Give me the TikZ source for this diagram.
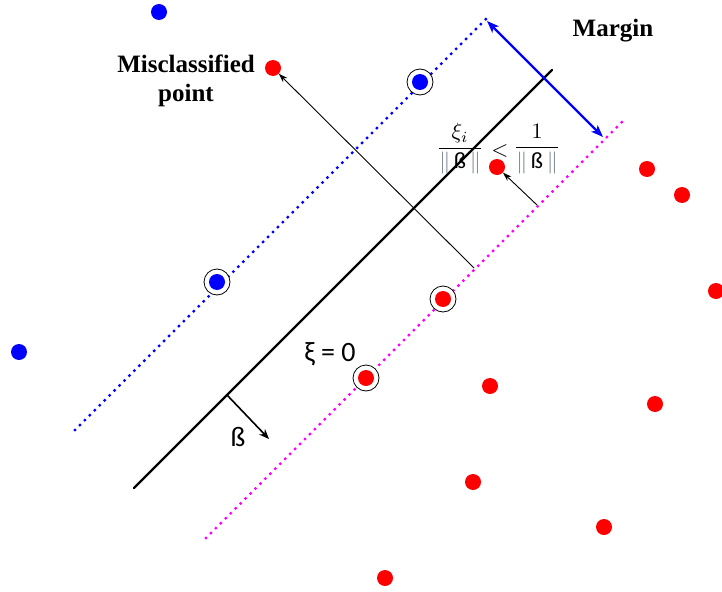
\documentclass[tikz,border=0pt]{standalone}
\usepackage{graphicx}
\usepackage{fontspec}
\usetikzlibrary{arrows.meta}
\newfontfamily\timesb{Liberation Serif}[BoldFont={* Bold}]
\newfontfamily\calib{Carlito}
\definecolor{ptblue}{RGB}{0,0,255}
\definecolor{ptred}{RGB}{255,0,0}
\definecolor{ptmag}{RGB}{255,0,255}
\definecolor{bargray}{RGB}{110,120,130}
\newcommand{\nb}{\mbox{\calib\fontsize{10.5}{12}\selectfont ß}}
\newcommand{\gbar}{\textcolor{bargray}{\|}}
\tikzset{
  bdot/.style={circle,fill=ptblue,inner sep=0pt,minimum size=16pt},
  rdot/.style={circle,fill=ptred,inner sep=0pt,minimum size=16pt},
  ring/.style={circle,draw=black,line width=0.8pt,fill=white,inner sep=0pt,minimum size=26pt},
  dotline/.style={line width=3.4pt,line cap=round,dash pattern=on 0pt off 7pt},
  thinarrow/.style={-{Stealth[length=9pt,width=6pt]},line width=0.9pt},
  boldlbl/.style={font=\timesb\bfseries\fontsize{25}{29}\selectfont,align=center,inner sep=0pt},
  sanslbl/.style={font=\calib\fontsize{28}{30}\selectfont,inner sep=0pt}
}
\begin{document}
\begin{tikzpicture}[x=1pt,y=-1pt]
\useasboundingbox (0,0) rectangle (722,591);
% lines
\coordinate (bl1) at (75,430); \coordinate (bl2) at (490,15);
\coordinate (ml1) at (206,538); \coordinate (ml2) at (622,122);
\coordinate (hl1) at (134,488); \coordinate (hl2) at (552,70);
\draw[dotline,draw=ptblue] (bl1) -- (bl2);
\draw[dotline,draw=ptmag] (ml1) -- (ml2);
\draw[line width=2.4pt,line cap=round] (hl1) -- (hl2);
% margin arrow
\coordinate (ma1) at (487,21); \coordinate (ma2) at (603,137);
\draw[ptblue,line width=2.2pt,{Stealth[length=12pt,width=9pt,inset=3pt]}-{Stealth[length=12pt,width=9pt,inset=3pt]}] (ma1) -- (ma2);
% rings (support vectors)
\node[ring] (rb1) at (420,82) {};
\node[ring] (rb2) at (217,282) {};
\node[ring] (rr1) at (443,299) {};
\node[ring] (rr2) at (366,378) {};
% blue points
\node[bdot] (b1) at (159,12) {};
\node[bdot] (b2) at (420,82) {};
\node[bdot] (b3) at (217,282) {};
\node[bdot] (b4) at (19,352) {};
% red points
\node[rdot] (r1) at (273,68) {};
\node[rdot] (r2) at (497,167) {};
\node[rdot] (r3) at (647,169) {};
\node[rdot] (r4) at (682,195) {};
\node[rdot] (r5) at (716,291) {};
\node[rdot] (r6) at (443,299) {};
\node[rdot] (r7) at (366,378) {};
\node[rdot] (r8) at (490,386) {};
\node[rdot] (r9) at (655,404) {};
\node[rdot] (r10) at (473,482) {};
\node[rdot] (r11) at (604,527) {};
\node[rdot] (r12) at (385,578) {};
% slack arrows
\coordinate (s1) at (474,268);
\draw[thinarrow] (s1) -- (r1);
\coordinate (s2) at (537,205);
\draw[thinarrow] (s2) -- (r2);
% normal vector
\coordinate (n1) at (227,395); \coordinate (n2) at (269,439);
\draw[line width=1.6pt,-{Stealth[length=10pt,width=8pt]}] (n1) -- (n2);
% labels
\node[boldlbl] (lm) at (613,31) {Margin};
\node[boldlbl,align=center] (lmis) at (186,81) {Misclassified\\point};
\node[sanslbl] (lxi) at (330,354) {ξ = 0};
\node[sanslbl] (lb) at (238,437) {ß};
\node[inner sep=0pt] (f1) at (460,149) {\scalebox{2.2}{$\displaystyle\frac{\xi_i}{\gbar\,\nb\,\gbar}$}};
\node[inner sep=0pt] (lt) at (500,151) {\scalebox{2.2}{$<$}};
\node[inner sep=0pt] (f2) at (537,149) {\scalebox{2.2}{$\displaystyle\frac{1}{\gbar\,\nb\,\gbar}$}};
\end{tikzpicture}
\end{document}
